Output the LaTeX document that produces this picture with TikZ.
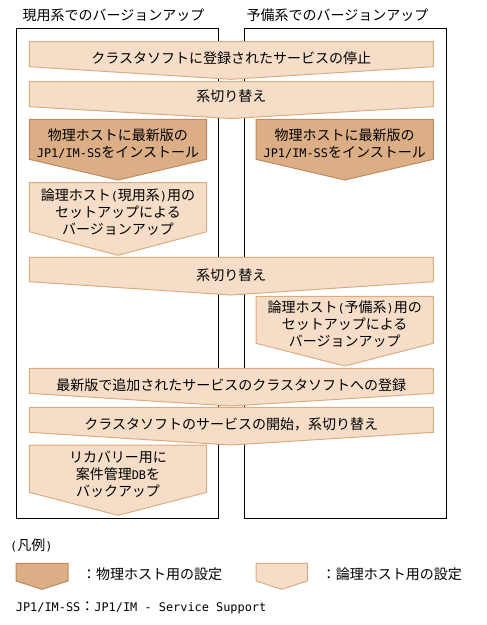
\documentclass[tikz,border=0pt]{standalone}
\usepackage{fontspec}
\setmainfont{Noto Sans CJK JP}
\newfontfamily\monof{DejaVu Sans Mono}
\definecolor{physfill}{RGB}{219,174,134}
\definecolor{physline}{RGB}{190,138,94}
\definecolor{logfill}{RGB}{245,221,199}
\definecolor{logline}{RGB}{218,172,130}
\newcommand\asc[1]{{\fontsize{11.9}{17}\monof #1}}
\newcommand\pentshape[6]{\filldraw[#6] (#1,#3) -- (#2,#3) -- (#2,#4) -- ({(#1+#2)/2},#5) -- (#1,#4) -- cycle;}
\tikzset{
  phys/.style={fill=physfill, draw=physline, line width=1pt},
  logi/.style={fill=logfill, draw=logline, line width=1pt},
  txt/.style={font=\fontsize{14}{17}\selectfont, align=center, inner sep=0pt},
  ltxt/.style={txt, anchor=west},
  panel/.style={draw=black, line width=1pt}
}
\begin{document}
\begin{tikzpicture}[x=1pt,y=-1pt]
\useasboundingbox (0,0) rectangle (487,625);
% titles
\node[ltxt] (titleL) at (22.5,15) {現用系でのバージョンアップ};
\node[ltxt] (titleR) at (246.5,15) {予備系でのバージョンアップ};
% panels
\draw[panel] (16.5,28.5) rectangle (218.5,518);
\draw[panel] (244.5,28.5) rectangle (446.5,518);
% shapes
\pentshape{29.3}{433.3}{41.7}{66.7}{79.3}{logi}
\pentshape{29.3}{433.3}{81.7}{106.7}{118.5}{logi}
\pentshape{29.3}{206.7}{119.3}{159.3}{180}{phys}
\pentshape{256}{433.3}{119.3}{159.3}{180}{phys}
\pentshape{29.3}{206.7}{182.7}{231.7}{255.3}{logi}
\pentshape{29.3}{433.3}{257.3}{281.7}{295}{logi}
\pentshape{256}{433.3}{296.3}{343.3}{366}{logi}
\pentshape{29.3}{433.3}{368.3}{393.3}{406}{logi}
\pentshape{29.3}{433.3}{407.3}{432.3}{445}{logi}
\pentshape{29.3}{206.7}{445}{492.3}{515.3}{logi}
% texts
\node[txt] (t1) at (231.3,58) {クラスタソフトに登録されたサービスの停止};
\node[txt] (t2) at (231.3,96.5) {系切り替え};
\node[txt] (t3l) at (118,143.5) {物理ホストに最新版の\\\asc{JP1/IM-SS}をインストール};
\node[txt] (t3r) at (344.7,143.5) {物理ホストに最新版の\\\asc{JP1/IM-SS}をインストール};
\node[txt] (t4l) at (118,212.3) {論理ホスト\asc{(}現用系\asc{)}用の\\セットアップによる\\バージョンアップ};
\node[txt] (t5) at (231.3,275) {系切り替え};
\node[txt] (t6r) at (344.7,324.2) {論理ホスト\asc{(}予備系\asc{)}用の\\セットアップによる\\バージョンアップ};
\node[txt] (t7) at (231.3,385) {最新版で追加されたサービスのクラスタソフトへの登録};
\node[txt] (t8) at (231.3,424) {クラスタソフトのサービスの開始，系切り替え};
\node[txt] (t9l) at (118,473.8) {リカバリー用に\\案件管理\asc{DB}を\\バックアップ};
% legend
\node[ltxt] (legtitle) at (10,545) {\asc{(}凡例\asc{)}};
\pentshape{16}{68}{563.3}{581}{589.3}{phys}
\pentshape{256}{307.3}{563.3}{581}{589.3}{logi}
\node[ltxt] (leg1) at (82,574) {：物理ホスト用の設定};
\node[ltxt] (leg2) at (321.7,574) {：論理ホスト用の設定};
\node[ltxt] (foot) at (15.7,608) {\asc{JP1/IM-SS}：\asc{JP1/IM - Service Support}};
\end{tikzpicture}
\end{document}
